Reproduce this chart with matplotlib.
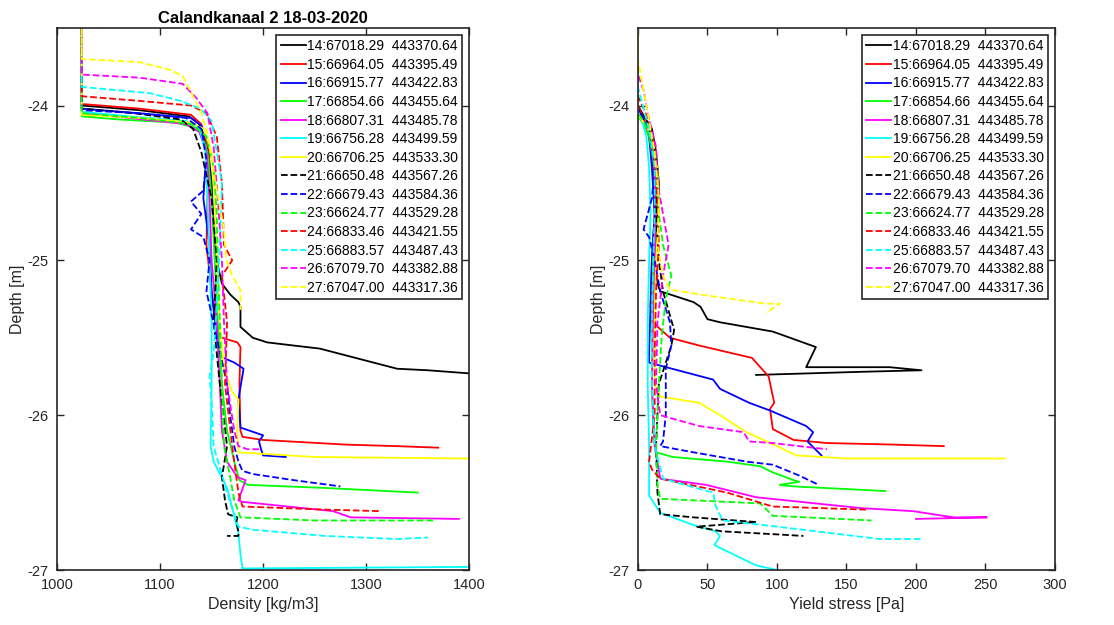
import matplotlib
matplotlib.use('Agg')
import matplotlib.pyplot as plt

plt.rcParams['font.family'] = ['Liberation Sans', 'DejaVu Sans']
plt.rcParams['axes.unicode_minus'] = False

# profile labels (number:x  y)
labels = ['14:67018.29  443370.64', '15:66964.05  443395.49', '16:66915.77  443422.83',
          '17:66854.66  443455.64', '18:66807.31  443485.78', '19:66756.28  443499.59',
          '20:66706.25  443533.30', '21:66650.48  443567.26', '22:66679.43  443584.36',
          '23:66624.77  443529.28', '24:66833.46  443421.55', '25:66883.57  443487.43',
          '26:67079.70  443382.88', '27:67047.00  443317.36']
colors = ['#000000', '#ff0000', '#0000ff', '#00ff00', '#ff00ff', '#00ffff', '#ffff00',
          '#000000', '#0000ff', '#00ff00', '#ff0000', '#00ffff', '#ff00ff', '#ffff00']
styles = ['-'] * 7 + ['--'] * 7

# ---- density profiles: depth [m], density [kg/m3]
rho14_z = [-23.5, -24.00, -24.03, -24.07, -24.12, -24.25, -24.5, -24.8, -25.0, -25.15, -25.22, -25.27,
           -25.30, -25.43, -25.50, -25.53, -25.57, -25.70, -25.71, -25.73]
rho14 = [1024, 1024, 1080, 1128, 1138, 1146, 1150, 1152, 1155, 1160, 1168, 1176,
         1178, 1178, 1190, 1204, 1255, 1330, 1360, 1400]
rho15_z = [-23.5, -23.99, -24.02, -24.06, -24.12, -24.3, -24.6, -24.9, -25.2, -25.45, -25.50, -25.53,
           -25.56, -25.8, -26.1, -26.14, -26.16, -26.19, -26.20, -26.21]
rho15 = [1024, 1024, 1080, 1130, 1140, 1148, 1146, 1145, 1150, 1155, 1160, 1175,
         1178, 1177, 1178, 1180, 1200, 1280, 1330, 1370]
rho16_z = [-23.5, -24.02, -24.05, -24.08, -24.13, -24.3, -24.6, -24.9, -25.2, -25.5, -25.62, -25.66,
           -25.70, -25.9, -26.08, -26.13, -26.17, -26.22, -26.26, -26.27]
rho16 = [1024, 1024, 1080, 1130, 1140, 1145, 1142, 1148, 1150, 1155, 1158, 1172,
         1181, 1176, 1178, 1200, 1196, 1198, 1200, 1222]
rho17_z = [-23.5, -24.07, -24.09, -24.11, -24.15, -24.3, -24.6, -25.0, -25.4, -25.8, -26.1, -26.3,
           -26.42, -26.45, -26.47, -26.50]
rho17 = [1024, 1024, 1060, 1115, 1138, 1146, 1150, 1153, 1156, 1160, 1165, 1172,
         1177, 1185, 1260, 1350]
rho18_z = [-23.5, -24.05, -24.08, -24.12, -24.17, -24.3, -24.6, -25.0, -25.4, -25.8, -26.1, -26.3,
           -26.40, -26.42, -26.55, -26.56, -26.62, -26.66, -26.67]
rho18 = [1024, 1024, 1070, 1125, 1138, 1145, 1148, 1150, 1155, 1158, 1160, 1165,
         1175, 1183, 1176, 1180, 1268, 1285, 1390]
rho19_z = [-23.5, -24.04, -24.07, -24.10, -24.14, -24.3, -24.6, -25.0, -25.4, -25.8, -26.2, -26.3,
           -26.47, -26.6, -26.76, -26.9, -26.99, -26.985, -26.98]
rho19 = [1024, 1024, 1070, 1125, 1138, 1144, 1146, 1148, 1150, 1150, 1149, 1152,
         1165, 1170, 1176, 1178, 1180, 1290, 1400]
rho20_z = [-23.5, -24.06, -24.08, -24.11, -24.15, -24.3, -24.6, -25.0, -25.4, -25.7, -25.85, -25.9,
           -26.1, -26.24, -26.27, -26.28]
rho20 = [1024, 1024, 1080, 1130, 1142, 1150, 1153, 1155, 1158, 1162, 1170, 1176,
         1175, 1176, 1250, 1400]
rho21_z = [-23.5, -24.02, -24.05, -24.09, -24.15, -24.3, -24.6, -25.0, -25.4, -25.8, -26.2, -26.4,
           -26.55, -26.64, -26.66, -26.69, -26.75, -26.78, -26.78]
rho21 = [1024, 1024, 1075, 1120, 1132, 1140, 1150, 1155, 1152, 1158, 1165, 1160,
         1163, 1166, 1175, 1174, 1176, 1176, 1165]
rho22_z = [-23.5, -24.03, -24.05, -24.08, -24.15, -24.35, -24.55, -24.62, -24.7, -24.8, -24.85, -25.0,
           -25.2, -25.5, -25.8, -26.0, -26.2, -26.3, -26.36, -26.38, -26.42, -26.46]
rho22 = [1024, 1024, 1080, 1125, 1140, 1145, 1142, 1130, 1140, 1130, 1142, 1148,
         1145, 1155, 1165, 1168, 1172, 1176, 1180, 1190, 1230, 1275]
rho23_z = [-23.5, -24.05, -24.08, -24.12, -24.2, -24.4, -24.7, -25.0, -25.4, -25.8, -26.2, -26.4,
           -26.55, -26.66, -26.68, -26.68]
rho23 = [1024, 1024, 1080, 1130, 1145, 1152, 1155, 1156, 1158, 1160, 1162, 1168,
         1172, 1178, 1250, 1365]
rho24_z = [-23.5, -23.94, -23.97, -24.00, -24.05, -24.2, -24.5, -24.9, -25.0, -25.1, -25.4, -25.8,
           -26.2, -26.5, -26.59, -26.61, -26.62]
rho24 = [1024, 1024, 1080, 1130, 1145, 1155, 1160, 1162, 1170, 1160, 1165, 1163,
         1170, 1176, 1180, 1260, 1315]
rho25_z = [-23.5, -23.88, -23.92, -23.97, -24.02, -24.1, -24.5, -24.9, -25.3, -25.6, -25.75, -25.9,
           -26.2, -26.5, -26.72, -26.74, -26.78, -26.80, -26.79]
rho25 = [1024, 1024, 1090, 1120, 1139, 1150, 1160, 1158, 1155, 1152, 1148, 1150,
         1152, 1165, 1176, 1190, 1260, 1330, 1360]
rho26_z = [-23.5, -23.8, -23.82, -23.86, -23.95, -24.05, -24.27, -24.6, -25.0, -25.4, -25.8, -26.1,
           -26.2, -26.22, -26.22]
rho26 = [1024, 1024, 1080, 1122, 1135, 1146, 1152, 1156, 1160, 1162, 1165, 1172,
         1176, 1185, 1198]
rho27_z = [-23.5, -23.7, -23.72, -23.77, -23.81, -24.03, -24.18, -24.47, -24.8, -24.99, -25.1, -25.19, -25.32]
rho27 = [1024, 1024, 1080, 1110, 1122, 1139, 1146, 1153, 1162, 1164, 1170, 1178, 1178]

# ---- yield stress profiles: depth [m], yield stress [Pa]
tau14_z = [-23.5, -24.0, -24.08, -24.15, -24.3, -24.5, -24.8, -25.0, -25.15, -25.20, -25.22, -25.27,
           -25.30, -25.38, -25.40, -25.46, -25.56, -25.69, -25.69, -25.71, -25.72, -25.74]
tau14 = [0, 0, 5, 10, 13, 15, 14, 12, 14, 16, 23, 40,
         45, 50, 59, 97, 128, 121, 181, 204, 160, 85]
tau15_z = [-23.5, -24.0, -24.08, -24.2, -24.4, -24.7, -25.0, -25.3, -25.42, -25.50, -25.55, -25.63,
           -25.75, -25.92, -25.96, -26.09, -26.16, -26.18, -26.19, -26.20]
tau15 = [0, 0, 4, 8, 11, 12, 10, 9, 13, 23, 44, 82,
         94, 98, 95, 97, 112, 136, 184, 220]
tau16_z = [-23.5, -24.02, -24.1, -24.2, -24.4, -24.7, -25.0, -25.3, -25.6, -25.66, -25.68, -25.77,
           -25.83, -25.92, -25.97, -26.07, -26.11, -26.17, -26.26]
tau16 = [0, 0, 4, 8, 10, 12, 10, 9, 8, 8, 16, 54,
         59, 80, 95, 121, 126, 122, 132]
tau17_z = [-23.5, -24.07, -24.12, -24.2, -24.4, -24.7, -25.0, -25.4, -25.8, -26.1, -26.24, -26.27,
           -26.30, -26.33, -26.37, -26.42, -26.43, -26.45, -26.46, -26.49]
tau17 = [0, 0, 4, 8, 12, 13, 11, 10, 10, 11, 13, 25,
         64, 88, 97, 112, 116, 102, 112, 178]
tau18_z = [-23.5, -24.05, -24.1, -24.2, -24.4, -24.7, -25.0, -25.4, -25.8, -26.2, -26.41, -26.45,
           -26.53, -26.60, -26.62, -26.66, -26.66, -26.67]
tau18 = [0, 0, 4, 9, 12, 13, 12, 11, 10, 12, 16, 49,
         85, 160, 198, 227, 251, 200]
tau19_z = [-23.5, -24.04, -24.1, -24.2, -24.4, -24.7, -25.0, -25.4, -25.8, -26.2, -26.52, -26.63,
           -26.71, -26.75, -26.78, -26.84, -26.97, -27.0]
tau19 = [0, 0, 3, 6, 8, 9, 8, 7, 7, 8, 8, 16,
         40, 56, 59, 55, 85, 100]
tau20_z = [-23.5, -24.06, -24.12, -24.2, -24.4, -24.7, -25.0, -25.4, -25.8, -25.88, -25.92, -26.0,
           -26.11, -26.2, -26.26, -26.28, -26.28, -26.28]
tau20 = [0, 0, 5, 10, 14, 15, 13, 12, 12, 16, 44, 59,
         78, 100, 114, 150, 208, 264]
tau21_z = [-23.5, -24.02, -24.1, -24.2, -24.4, -24.7, -25.0, -25.2, -25.45, -25.55, -25.8, -26.2,
           -26.5, -26.64, -26.66, -26.69, -26.72, -26.75, -26.77, -26.78]
tau21 = [0, 0, 5, 10, 14, 13, 15, 18, 26, 24, 15, 13,
         14, 16, 40, 85, 42, 60, 100, 119]
tau22_z = [-23.5, -24.02, -24.1, -24.2, -24.4, -24.6, -24.8, -24.85, -25.0, -25.2, -25.4, -25.55,
           -25.7, -26.0, -26.17, -26.2, -26.24, -26.30, -26.32, -26.39, -26.45]
tau22 = [0, 0, 5, 9, 12, 10, 4, 8, 12, 16, 23, 24,
         20, 20, 18, 16, 40, 78, 97, 116, 130]
tau23_z = [-23.5, -24.05, -24.1, -24.2, -24.4, -24.7, -24.9, -25.1, -25.25, -25.5, -25.8, -26.2,
           -26.45, -26.54, -26.57, -26.65, -26.68]
tau23 = [0, 0, 4, 9, 13, 15, 18, 24, 20, 17, 15, 13,
         14, 16, 88, 97, 168]
tau24_z = [-23.5, -23.94, -24.0, -24.1, -24.3, -24.6, -24.9, -25.2, -25.6, -26.0, -26.3, -26.35,
           -26.41, -26.50, -26.59, -26.61]
tau24 = [0, 0, 3, 8, 12, 14, 15, 13, 12, 12, 8, 10,
         16, 64, 97, 164]
tau25_z = [-23.5, -23.88, -23.95, -24.05, -24.2, -24.4, -24.7, -25.0, -25.4, -25.8, -26.2, -26.41,
           -26.50, -26.59, -26.68, -26.72, -26.80, -26.80]
tau25 = [0, 0, 2, 5, 9, 12, 12, 11, 10, 10, 12, 18,
         54, 56, 61, 100, 174, 205]
tau26_z = [-23.5, -23.8, -23.9, -24.05, -24.27, -24.5, -24.7, -24.9, -25.1, -25.4, -25.8, -26.0,
           -26.07, -26.11, -26.17, -26.18, -26.20, -26.22]
tau26 = [0, 0, 4, 7, 13, 14, 18, 22, 18, 14, 13, 16,
         44, 76, 80, 97, 116, 136]
tau27_z = [-23.5, -23.7, -23.85, -24.05, -24.3, -24.6, -24.9, -25.1, -25.19, -25.23, -25.28, -25.28, -25.34]
tau27 = [0, 0, 3, 7, 12, 15, 14, 18, 23, 52, 92, 102, 92]

density = [(rho14_z, rho14), (rho15_z, rho15), (rho16_z, rho16), (rho17_z, rho17), (rho18_z, rho18),
           (rho19_z, rho19), (rho20_z, rho20), (rho21_z, rho21), (rho22_z, rho22), (rho23_z, rho23),
           (rho24_z, rho24), (rho25_z, rho25), (rho26_z, rho26), (rho27_z, rho27)]
yieldstress = [(tau14_z, tau14), (tau15_z, tau15), (tau16_z, tau16), (tau17_z, tau17), (tau18_z, tau18),
               (tau19_z, tau19), (tau20_z, tau20), (tau21_z, tau21), (tau22_z, tau22), (tau23_z, tau23),
               (tau24_z, tau24), (tau25_z, tau25), (tau26_z, tau26), (tau27_z, tau27)]

fig = plt.figure(figsize=(11.14, 6.25), dpi=100)
ax1 = fig.add_axes([0.0512, 0.088, 0.370, 0.867])
ax2 = fig.add_axes([0.5727, 0.088, 0.3743, 0.867])

for i in range(14):
    ax1.plot(density[i][1], density[i][0], color=colors[i], linestyle=styles[i], lw=1.3, label=labels[i])
    ax2.plot(yieldstress[i][1], yieldstress[i][0], color=colors[i], linestyle=styles[i], lw=1.3, label=labels[i])

ax1.set_xlim(1000, 1400)
ax1.set_xticks([1000, 1100, 1200, 1300, 1400])
ax2.set_xlim(0, 300)
ax2.set_xticks([0, 50, 100, 150, 200, 250, 300])

for ax in (ax1, ax2):
    ax.set_ylim(-27, -23.5)
    ax.set_yticks([-27, -26, -25, -24])
    ax.tick_params(direction='in', top=True, right=True, length=5, width=1, labelsize=10.5,
                   colors='#262626', pad=6)
    for s in ax.spines.values():
        s.set_color('#262626')
        s.set_linewidth(1.2)
    ax.set_ylabel('Depth [m]', fontsize=11.5, color='#262626', labelpad=2)
    leg = ax.legend(loc='upper right', fontsize=10, fancybox=False, framealpha=1,
                    edgecolor='#262626', handlelength=1.8, handletextpad=0.1,
                    borderpad=0.3, labelspacing=0.33, borderaxespad=0.5)
    leg.get_frame().set_linewidth(1.2)

ax1.set_xlabel('Density [kg/m3]', fontsize=11.5, color='#262626', labelpad=3)
ax2.set_xlabel('Yield stress [Pa]', fontsize=11.5, color='#262626', labelpad=3)
ax1.set_title('Calandkanaal 2 18-03-2020', fontsize=12, fontweight='bold', pad=4)

fig.savefig('out.png', dpi=100)
